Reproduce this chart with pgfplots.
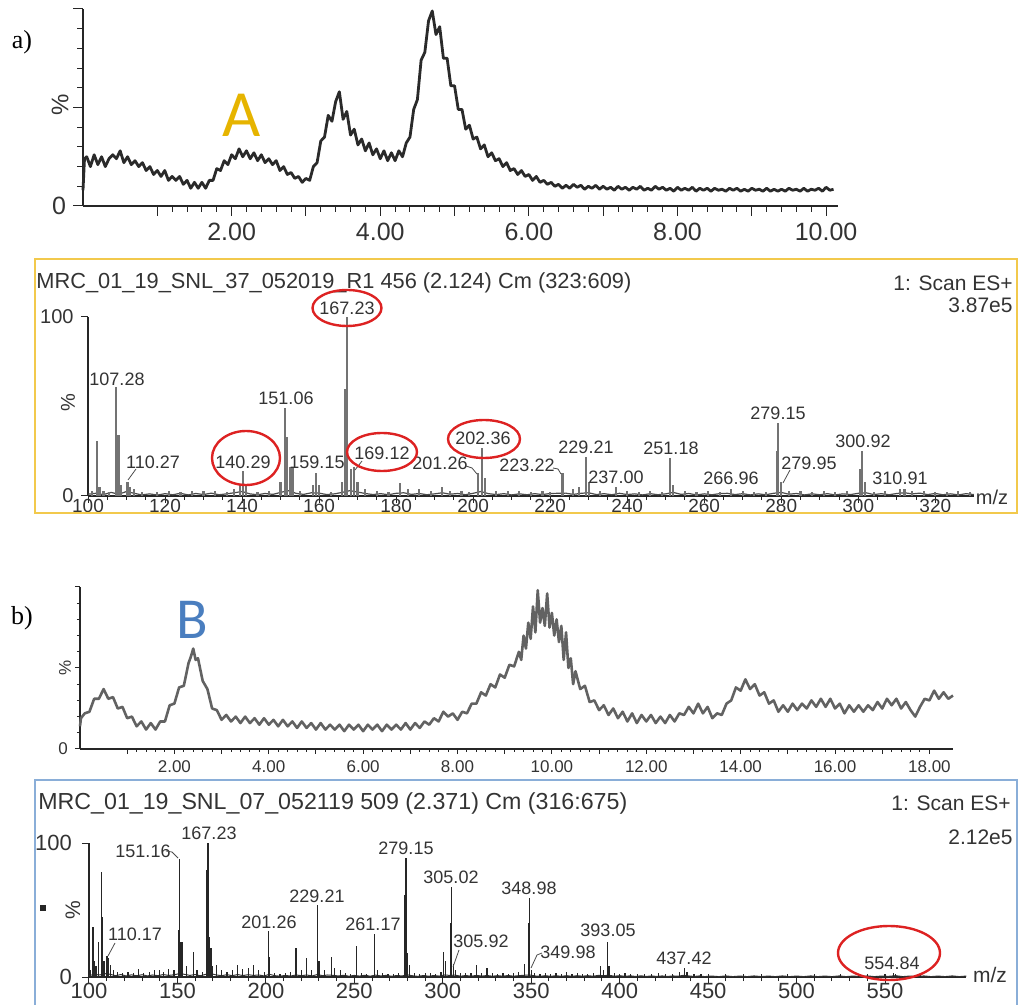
\documentclass[border=0pt]{standalone}
\usepackage{fontspec}
\setmainfont{Liberation Sans}
\newfontfamily\seriffont{Liberation Serif}
\newfontfamily\calfont{Carlito}
\usepackage{pgfplots}
\pgfplotsset{compat=1.18}

\definecolor{trA}{HTML}{2A2A2A}
\definecolor{trB}{HTML}{626262}
\definecolor{goldA}{HTML}{E6B400}
\definecolor{blueB}{HTML}{4A7EBF}
\definecolor{frameA}{HTML}{F2C94C}
\definecolor{frameB}{HTML}{8AAED8}
\definecolor{circ}{HTML}{DD2222}
\definecolor{txt}{HTML}{333333}

\newcommand{\fs}[1]{\fontsize{#1}{#1}\selectfont}

\pgfplotsset{
  msbase/.style={
    scale only axis, enlargelimits=false, clip=false,
    anchor=south west,
    axis x line*=bottom, axis y line*=left,
    axis line style={-, black!85, line width=0.75pt},
    tick align=outside, tick style={black!85, line width=0.5pt},
    /pgf/number format/assume math mode=true,
    tick label style={text=txt},
    ymin=0, ymax=100,
  },
}

\begin{document}
\begin{tikzpicture}
\useasboundingbox (0,0) rectangle (509.5pt,-502.5pt);

% ---------- a) chromatogram
\begin{axis}[msbase, at={(41.5pt,-103pt)}, width=377.5pt, height=98.5pt,
  xmin=0, xmax=10.16,
  xtick={1,2,...,10}, xticklabels={,2.00,,4.00,,6.00,,8.00,,10.00},
  minor x tick num=4,
  ytick={0,50,100}, yticklabels={0,,}, minor y tick num=4,
  major tick length=5pt, minor tick length=3pt,
  tick label style={font=\fs{12.5}}]
\addplot[trA, line width=1.4pt, line join=round] coordinates {
(0.00,8)(0.02,24)(0.05,25)(0.10,20)(0.15,26)(0.20,21)(0.25,25)(0.30,20)(0.35,24)(0.40,26)
(0.45,24)(0.50,28)(0.55,22)(0.60,25)(0.65,21)(0.70,23)(0.75,20)(0.80,22)(0.85,18)(0.90,20)
(0.95,16)(1.00,18)(1.05,15)(1.10,18)(1.15,13)(1.20,15)(1.25,13)(1.30,15)(1.35,11)(1.40,13)
(1.45,9)(1.50,12)(1.55,9)(1.60,12)(1.65,9)(1.70,13)(1.75,13)(1.80,19)(1.85,18)(1.90,23)
(1.95,21)(2.00,26)(2.05,24)(2.10,29)(2.15,25)(2.20,28)(2.25,24)(2.30,27)(2.35,23)(2.40,26)
(2.45,22)(2.50,24)(2.55,21)(2.60,23)(2.65,18)(2.70,20)(2.75,16)(2.80,17)(2.85,14)(2.90,15)
(2.95,12)(3.00,14)(3.05,13)(3.10,20)(3.15,22)(3.20,33)(3.25,35)(3.30,46)(3.35,43)(3.40,53)
(3.45,58)(3.50,44)(3.55,48)(3.60,36)(3.65,39)(3.70,31)(3.75,34)(3.80,28)(3.85,32)(3.90,26)
(3.95,29)(4.00,24)(4.05,28)(4.10,23)(4.15,27)(4.20,23)(4.25,28)(4.30,25)(4.35,32)(4.40,35)
(4.45,49)(4.50,54)(4.55,74)(4.60,78)(4.65,94)(4.70,99)(4.75,87)(4.80,91)(4.85,75)(4.90,75)
(4.95,61)(5.00,61)(5.05,49)(5.10,49)(5.15,39)(5.20,41)(5.25,34)(5.30,35)(5.35,29)(5.40,31)
(5.45,25)(5.50,27)(5.55,23)(5.60,24)(5.65,20)(5.70,22)(5.75,18)(5.80,19)(5.85,16)(5.90,18)
(5.95,15)(6.00,16)(6.05,13)(6.10,15)(6.15,12)(6.20,13)(6.25,11)(6.30,12)(6.35,10)(6.40,11)
(6.45,9)(6.50,10.5)(6.55,9)(6.60,11)(6.65,9.5)(6.70,10.5)(6.75,8.5)(6.80,10)(6.85,9)(6.90,10.5)
(6.95,8.5)(7.00,10)(7.05,8.5)(7.10,9.5)(7.15,8)(7.20,10)(7.25,8.5)(7.30,9.5)(7.35,8)(7.40,9.5)
(7.45,8.5)(7.50,10)(7.55,8)(7.60,9)(7.65,8)(7.70,10)(7.75,8.5)(7.80,9.5)(7.85,8)(7.90,9)
(7.95,7.5)(8.00,9.5)(8.05,8)(8.10,9)(8.15,8)(8.20,9.5)(8.25,7.5)(8.30,9)(8.35,8)(8.40,9)
(8.45,7.5)(8.50,9)(8.55,8)(8.60,8.5)(8.65,7.5)(8.70,9)(8.75,8)(8.80,9)(8.85,7.5)(8.90,8.5)
(8.95,7.5)(9.00,9)(9.05,8)(9.10,8.5)(9.15,7.5)(9.20,9)(9.25,7.5)(9.30,8.5)(9.35,7.5)(9.40,8.5)
(9.45,7.5)(9.50,9)(9.55,8)(9.60,8.5)(9.65,7.5)(9.70,9)(9.75,7.5)(9.80,8.5)(9.85,8)(9.90,9)
(9.95,7.5)(10.00,9.5)(10.05,8)(10.10,8.5)
};
\end{axis}

% ---------- a) mass spectrum
\begin{axis}[msbase, at={(44pt,-248pt)}, width=442.9pt, height=89.5pt,
  xmin=100, xmax=330,
  xtick={100,120,...,320}, minor x tick num=3,
  ytick={0,100},
  major tick length=3.5pt, minor tick length=2pt,
  tick label style={font=\fs{10}},
  xticklabel style={font=\fs{9.5}, inner sep=0.5pt, yshift=2.5pt},
  yticklabel style={inner sep=1pt, xshift=-2.5pt}]
\addplot[black!70, line width=0.6pt] coordinates {
(100,1)(102,1.5)(104,0.8)(106,2)(108,1)(110,2.5)(112,1.5)(114,0.6)(116,1.2)(118,0.5)
(120,1.3)(122,0.7)(124,1.5)(126,0.6)(128,1.4)(130,0.8)(132,1.6)(134,0.7)(136,1.2)(138,1.8)
(140,2.5)(142,1.2)(144,0.7)(146,1.4)(148,0.9)(150,2)(152,3)(154,1.5)(156,0.9)(158,1.8)
(160,1.6)(162,0.8)(164,1.2)(166,2)(168,3)(170,2.2)(172,1.4)(174,0.8)(176,1.3)(178,0.7)
(180,1.5)(182,1.8)(184,0.9)(186,1.4)(188,0.7)(190,1.2)(192,1.8)(194,1)(196,1.4)(198,0.7)
(200,1.5)(202,2.5)(204,1.3)(206,0.8)(208,1.3)(210,0.6)(212,1.2)(214,0.7)(216,1.3)(218,0.8)
(220,1.4)(222,1.5)(224,1.6)(226,0.9)(228,1.5)(230,1.8)(232,0.8)(234,1.3)(236,0.7)(238,1.5)
(240,0.8)(242,1.2)(244,0.6)(246,1.3)(248,0.7)(250,1.2)(252,2)(254,0.9)(256,1.4)(258,0.6)
(260,1.2)(262,0.7)(264,1.3)(266,1.5)(268,0.8)(270,1.3)(272,0.6)(274,1.2)(276,0.7)(278,1.5)
(280,2)(282,1)(284,1.4)(286,0.6)(288,1.2)(290,0.7)(292,1.3)(294,0.6)(296,1.2)(298,0.8)
(300,1.5)(302,1.8)(304,0.8)(306,1.3)(308,0.7)(310,1.4)(312,1.8)(314,1.2)(316,1.6)(318,0.8)
(320,1.4)(322,0.7)(324,1.2)(326,0.6)(328,1.3)(330,0.8)
};
\addplot[ycomb, black!55, line width=1.1pt] coordinates {
(101,3)(102.3,31)(103,5)(104,3)(105.5,2)(107.28,61)(107.9,34)(108.6,6)(110.27,8)(111,5)
(112,4)(114,2)(118,2)(121,3)(124,2)(127,3)(130,3)(133,3)(136,2)(138,4)
(139.5,6)(140.29,14)(141,6)(144,2)(147,3)(150,8)(151.06,49)(151.6,33)(152.6,16)(153.3,16)
(155,3)(158.4,6)(159.15,13)(160,6)(163,2)(166,8)(166.8,60)(167.23,100)(168.2,15)(169.12,16)
(170,8)(172,4)(175,3)(178,2)(181,7)(183,4)(186,4)(189,3)(192,5)(194,3)
(197,3)(199,2)(201.26,13)(202.36,27)(203,10)(206,3)(209,3)(212,3)(215,2)(218,3)
(220,2)(223.22,13)(226,4)(227.5,5)(229.21,22)(230,8)(233,3)(237,5)(240,3)(243,2)
(246,3)(249,2)(251.18,21)(252,6)(255,3)(258,2)(261,3)(264,2)(267,4)(270,3)
(273,2)(276,2)(278.8,25)(279.15,41)(279.95,8)(282,3)(285,3)(288,2)(291,3)(294,2)
(297,3)(300.5,15)(300.92,25)(301.8,8)(304,2)(307,3)(310.91,4)(312,4)(314,3)(317,3)
(320,2)(323,2)(326,3)(329,2)
};
\end{axis}

% ---------- b) chromatogram
\begin{axis}[msbase, at={(40pt,-374.5pt)}, width=436.5pt, height=81pt,
  xmin=0, xmax=18.5,
  xtick={1,2,...,18}, xticklabels={,2.00,,4.00,,6.00,,8.00,,10.00,,12.00,,14.00,,16.00,,18.00},
  minor x tick num=4,
  ytick={0,50,100}, yticklabels={0,,}, minor y tick num=4,
  major tick length=2.5pt, minor tick length=1.5pt,
  tick label style={font=\fs{8.5}}]
\addplot[trB, line width=1.3pt, line join=round] coordinates {
(0.00,14)(0.02,19)(0.1,22)(0.2,23)(0.3,31)(0.4,31)(0.5,37)(0.6,31)(0.7,32)(0.8,25)
(0.9,26)(1.0,19)(1.1,20)(1.2,14)(1.3,17)(1.4,12)(1.5,16)(1.6,12)(1.7,17)(1.8,17)
(1.9,27)(2.0,28)(2.1,38)(2.2,39)(2.3,53)(2.35,57)(2.4,62)(2.45,55)(2.5,56)(2.6,42)
(2.7,37)(2.8,25)(2.9,24)(3.0,18)(3.1,21)(3.2,17)(3.3,20)(3.4,16)(3.5,20)(3.6,16)
(3.7,19)(3.8,15)(3.9,19)(4.0,15)(4.1,18)(4.2,14)(4.3,18)(4.4,14)(4.5,17)(4.6,13)
(4.7,17)(4.8,13)(4.9,16)(5.0,12)(5.1,16)(5.2,12)(5.3,15)(5.4,12)(5.5,15)(5.6,11)
(5.7,15)(5.8,12)(5.9,15)(6.0,11)(6.1,15)(6.2,12)(6.3,15)(6.4,11)(6.5,15)(6.6,12)
(6.7,15)(6.8,12)(6.9,16)(7.0,12)(7.1,16)(7.2,13)(7.3,17)(7.4,15)(7.5,19)(7.6,17)
(7.7,23)(7.8,20)(7.9,22)(8.0,18)(8.1,23)(8.2,22)(8.3,28)(8.4,28)(8.5,35)(8.6,33)
(8.7,40)(8.8,38)(8.9,46)(9.0,44)(9.1,52)(9.2,51)(9.3,60)(9.35,55)(9.4,70)(9.45,62)
(9.5,78)(9.55,68)(9.6,88)(9.65,72)(9.7,98)(9.75,78)(9.8,87)(9.85,76)(9.9,96)(9.95,75)
(10.0,84)(10.05,70)(10.1,80)(10.15,66)(10.2,76)(10.25,55)(10.3,72)(10.35,50)(10.4,56)(10.45,40)
(10.5,48)(10.6,37)(10.7,39)(10.8,29)(10.9,30)(11.0,24)(11.1,27)(11.2,21)(11.3,25)(11.4,19)
(11.5,23)(11.6,17)(11.7,22)(11.8,16)(11.9,21)(12.0,17)(12.1,21)(12.2,16)(12.3,20)(12.4,16)
(12.5,21)(12.6,17)(12.7,22)(12.8,21)(12.9,26)(13.0,22)(13.1,28)(13.2,22)(13.3,26)(13.4,19)
(13.5,22)(13.6,21)(13.7,28)(13.8,30)(13.9,38)(14.0,36)(14.1,43)(14.2,37)(14.3,40)(14.4,33)
(14.5,35)(14.6,28)(14.7,30)(14.8,23)(14.9,27)(15.0,23)(15.1,28)(15.2,24)(15.3,28)(15.4,25)
(15.5,30)(15.6,26)(15.7,31)(15.8,26)(15.9,31)(16.0,25)(16.1,28)(16.2,22)(16.3,27)(16.4,23)
(16.5,27)(16.6,23)(16.7,27)(16.8,24)(16.9,29)(17.0,25)(17.1,31)(17.2,27)(17.3,31)(17.4,25)
(17.5,29)(17.6,24)(17.7,20)(17.8,26)(17.9,31)(18.0,30)(18.1,36)(18.2,31)(18.3,35)(18.4,31)
(18.5,33)
};
\end{axis}

% ---------- b) mass spectrum
\begin{axis}[msbase, at={(44.5pt,-488.5pt)}, width=438.7pt, height=67pt,
  xmin=100, xmax=596,
  xtick={100,150,...,550}, minor x tick num=4,
  ytick={0,100},
  major tick length=3.5pt, minor tick length=2pt,
  tick label style={font=\fs{11}},
  xticklabel style={inner sep=1pt, yshift=1.5pt},
  yticklabel style={xshift=-1.5pt}]
\addplot[black!80, line width=0.5pt] coordinates {
(100,1)(103,2)(106,1.5)(109,2.5)(112,2)(115,1)(118,1.8)(121,0.8)(124,1.6)(127,0.9)
(130,1.7)(133,0.8)(136,1.5)(139,1)(142,1.8)(145,1.2)(148,1.6)(151,2.5)(154,2)(157,1.2)
(160,1.8)(163,0.9)(166,2)(169,2.5)(172,1.5)(175,1)(178,1.7)(181,1)(184,1.8)(187,1.1)
(190,1.7)(193,1.2)(196,1.5)(199,0.8)(202,2)(205,1)(208,0.6)(211,1.2)(214,0.7)(217,1.5)
(220,1)(223,1.5)(226,0.8)(229,1.8)(232,1)(235,1.5)(238,1.2)(241,0.8)(244,1.3)(247,0.6)
(250,1.2)(253,0.7)(256,1.3)(259,0.6)(262,1.4)(265,0.8)(268,1.2)(271,0.6)(274,1.1)(277,0.8)
(280,1.6)(283,0.9)(286,0.5)(289,1.1)(292,0.6)(295,1.1)(298,0.7)(301,1.5)(304,1.2)(307,1.4)
(310,0.6)(313,1.1)(316,0.6)(319,1.2)(322,0.7)(325,1.1)(328,0.6)(331,1)(334,0.6)(337,1.1)
(340,0.6)(343,1)(346,1.3)(349,1.5)(352,0.8)(355,0.5)(358,1)(361,0.5)(364,1)(367,0.5)
(370,1)(373,0.5)(376,1)(379,0.6)(382,1)(385,0.6)(388,1.2)(391,1)(394,1.3)(397,0.6)
(400,1)(403,0.5)(406,0.9)(409,0.4)(412,0.9)(415,0.4)(418,0.8)(421,0.4)(424,0.8)(427,0.4)
(430,0.8)(433,0.6)(436,1.2)(439,0.8)(442,0.4)(445,0.8)(448,0.3)(452,0.7)(456,0.3)(460,0.8)
(464,0.3)(468,0.7)(472,0.3)(476,0.8)(480,0.3)(484,0.7)(488,0.3)(492,0.8)(496,0.3)(500,0.7)
(504,0.3)(508,0.8)(512,0.3)(516,0.7)(520,0.3)(524,0.8)(528,0.3)(532,0.7)(536,0.3)(540,0.8)
(544,0.3)(548,0.7)(552,0.5)(556,1)(560,0.3)(564,0.7)(568,0.3)(572,0.8)(576,0.3)(580,0.7)
(584,0.3)(588,0.8)(592,0.3)(596,0.7)
};
\addplot[ycomb, black!85, line width=0.6pt] coordinates {
(101,5)(102.3,37)(103,12)(104,8)(105.3,26)(107,78)(107.6,45)(108.5,12)(110.17,16)(111,14)
(112,9)(114,5)(116,4)(119,3)(122,4)(125,3)(128,6)(131,3)(134,4)(137,5)
(140,5)(142,4)(145,6)(148,5)(150.5,35)(151.16,88)(152,26)(153,26)(155,8)(159,19)
(161,5)(164,4)(166.7,80)(167.23,100)(168,30)(169,22)(170,8)(172,9)(175,5)(178,4)
(181,5)(184,9)(187,6)(190,7)(193,9)(196,5)(199,4)(201.26,34)(202,15)(205,3)
(208,2)(211,3)(214,4)(217,22)(220,5)(223,14)(226,5)(229.21,54)(230,12)(233,5)
(237,15)(239,7)(242,5)(245,3)(248,2)(251,23)(254,3)(257,2)(261.17,32)(263,5)
(266,3)(269,2)(272,2)(275,3)(278.6,61)(279.15,89)(280,18)(281,9)(284,3)(287,2)
(290,3)(293,3)(296,2)(299,4)(300.5,19)(301.5,12)(304.6,40)(305.02,67)(305.92,10)(307,5)
(310,3)(313,3)(316,3)(319,9)(322,3)(325,7)(328,3)(331,2)(334,3)(337,2)
(340,3)(343,4)(346,10)(348.4,40)(348.98,59)(349.98,5)(352,3)(355,2)(358,3)(361,2)
(364,3)(367,2)(370,4)(373,2)(376,3)(379,2)(382,2)(385,3)(389,8)(391,5)
(393.05,26)(394,8)(397,3)(400,2)(403,3)(406,2)(410,2)(414,2)(418,2)(422,3)
(426,2)(430,2)(434,4)(436.5,7)(438,4)(442,2)(446,2)(450,2)(455,1)(460,2)
(465,1)(470,2)(475,1)(480,2)(485,1)(490,1)(495,2)(500,1)(505,1)(510,2)
(515,1)(520,1)(525,2)(530,1)(535,1)(540,2)(545,1)(550,2)(554.84,3)(556,2)
(560,1)(565,1)(570,2)(575,1)(580,1)(585,1)(590,1)(595,1)
};
\end{axis}

% ---------- annotations, in pixel units of the reference
\begin{scope}[x=0.5pt, y=-0.5pt]
  % frames
  \draw[frameA, line width=1pt] (35,259) rectangle (1017,513);
  \draw[frameB, line width=1pt] (35,780) rectangle (1017,1012);

  % panel letters
  \node[font=\seriffont\fs{13}] at (22,42) {a)};
  \node[font=\seriffont\fs{13}] at (22,618) {b)};
  \node[font=\calfont\fs{33}, text=goldA] at (242,115) {A};
  \node[font=\calfont\fs{29}, text=blueB] at (192,620) {B};

  % y-axis "%" labels
  \node[rotate=90, font=\fs{12}, text=txt] at (60,105) {\%};
  \node[rotate=90, font=\fs{10}, text=txt] at (68,403) {\%};
  \node[rotate=90, font=\fs{8.5}, text=txt] at (65,668) {\%};
  \node[rotate=90, font=\fs{10.5}, text=txt] at (73,910) {\%};
  \fill[black!85] (40,905) rectangle (46,911);

  % spectrum a headers
  \node[anchor=west, inner sep=0pt, font=\fs{10.9}, text=txt] at (36,283)
    {MRC\_01\_19\_SNL\_37\_052019\_R1 456 (2.124) Cm (323:609)};
  \node[anchor=east, inner sep=0pt, font=\fs{10.5}, text=txt] at (1013,283) {1: Scan ES+};
  \node[anchor=east, inner sep=0pt, font=\fs{10.5}, text=txt] at (1013,305) {3.87e5};
  \node[font=\fs{10}, text=txt] at (992,497) {m/z};

  % spectrum a peak labels
  \begin{scope}[every node/.style={font=\fs{9}, text=txt, inner sep=0pt}]
    \node at (117,379) {107.28};
    \node at (153,462) {110.27};
    \node at (243,462) {140.29};
    \node at (286,398) {151.06};
    \node at (317,462) {159.15};
    \node at (347,308) {167.23};
    \node at (382,453) {169.12};
    \node at (440,463) {201.26};
    \node at (483,438) {202.36};
    \node at (527,465) {223.22};
    \node at (586,447) {229.21};
    \node at (616,477) {237.00};
    \node at (671,448) {251.18};
    \node at (731,478) {266.96};
    \node at (778,413) {279.15};
    \node at (809,463) {279.95};
    \node at (863,441) {300.92};
    \node at (900,478) {310.91};
  \end{scope}
  \draw[black!70, line width=0.4pt] (128,480)--(136,469);
  \draw[black!70, line width=0.4pt] (355,470)--(362,461);
  \draw[black!70, line width=0.4pt] (466,466)--(472,468)--(477,474);
  \draw[black!70, line width=0.4pt] (553,468)--(558,469)--(561,474);
  \draw[black!70, line width=0.4pt] (783,483)--(790,470);

  % red circles, spectrum a
  \draw[circ, line width=1.2pt] (246,458) ellipse [x radius=17pt, y radius=13.5pt];
  \draw[circ, line width=1.2pt] (347,308) ellipse [x radius=17.25pt, y radius=9pt];
  \draw[circ, line width=1.2pt] (382,452) ellipse [x radius=17.5pt, y radius=9.5pt];
  \draw[circ, line width=1.2pt] (484,439) ellipse [x radius=18pt, y radius=9.5pt];

  % spectrum b headers
  \node[anchor=west, inner sep=0pt, font=\fs{11.6}, text=txt] at (38,803)
    {MRC\_01\_19\_SNL\_07\_052119 509 (2.371) Cm (316:675)};
  \node[anchor=east, inner sep=0pt, font=\fs{10.5}, text=txt] at (1011,803) {1: Scan ES+};
  \node[anchor=east, inner sep=0pt, font=\fs{10.5}, text=txt] at (1013,837) {2.12e5};
  \node[font=\fs{10.5}, text=txt] at (990,975) {m/z};

  % spectrum b peak labels
  \begin{scope}[every node/.style={font=\fs{9}, text=txt, inner sep=0pt}]
    \node at (143,851) {151.16};
    \node at (209,833) {167.23};
    \node at (135,934) {110.17};
    \node at (269,922) {201.26};
    \node at (317,896) {229.21};
    \node at (373,924) {261.17};
    \node at (406,848) {279.15};
    \node at (451,877) {305.02};
    \node at (481,941) {305.92};
    \node at (529,888) {348.98};
    \node at (568,952) {349.98};
    \node at (608,930) {393.05};
    \node at (684,958) {437.42};
    \node at (892,963) {554.84};
  \end{scope}
  \draw[black!70, line width=0.4pt] (166,851)--(172,852)--(178,858);
  \draw[black!70, line width=0.4pt] (108,956)--(115,943);
  \draw[black!70, line width=0.4pt] (453,967)--(459,950);
  \draw[black!70, line width=0.4pt] (531,968)--(537,955)--(542,953);
  \draw[circ, line width=1.2pt] (889,953) ellipse [x radius=25.5pt, y radius=13.5pt];
\end{scope}
\end{tikzpicture}
\end{document}
